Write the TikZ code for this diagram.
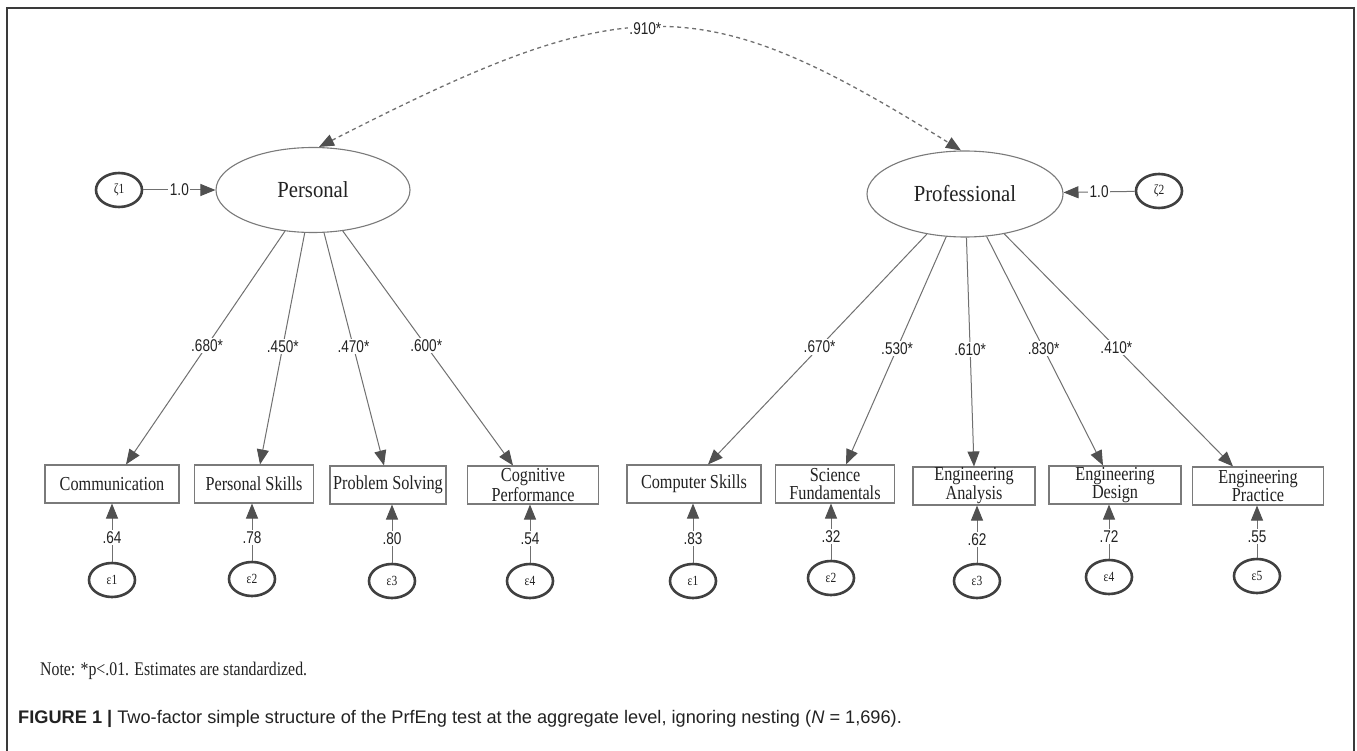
\documentclass[tikz,border=0pt]{standalone}
\usepackage{fontspec}
\setmainfont{Liberation Serif}
\newfontfamily\dserif[FakeStretch=0.82]{Liberation Serif}
\newfontfamily\lserif[FakeStretch=0.9]{Liberation Serif}
\newfontfamily\dsans[FakeStretch=0.8]{Liberation Sans}
\newfontfamily\capsans{Liberation Sans}
\usetikzlibrary{arrows.meta,calc,shapes.geometric}
\definecolor{linegray}{HTML}{707070}
\definecolor{headgray}{HTML}{505050}
\definecolor{boxgray}{HTML}{7A7A7A}
\definecolor{ringgray}{HTML}{404040}
\definecolor{framegray}{HTML}{3A3A3A}
\definecolor{txtgray}{HTML}{222222}
\begin{document}
\begin{tikzpicture}[x=1pt,y=-1pt,
  latent/.style={ellipse, draw=boxgray, line width=1.1pt, inner sep=0pt,
    minimum width=194pt, minimum height=85pt, text=txtgray,
    font=\lserif\fontsize{23}{26}\selectfont},
  indic/.style={rectangle, draw=boxgray, line width=1.1pt, minimum height=38pt,
    inner sep=0pt, align=center, text=txtgray,
    font=\dserif\fontsize{19.8}{18}\selectfont},
  errc/.style={ellipse, draw=ringgray, line width=2.6pt, minimum width=46pt,
    minimum height=34pt, inner sep=0pt, text=txtgray,
    font=\dserif\fontsize{14}{14}\selectfont},
  conn/.style={draw=linegray, line width=1pt,
    -{Triangle[length=15pt,width=12pt,color=headgray]}},
  dblconn/.style={draw=linegray, line width=1.3pt, dash pattern=on 4pt off 3.5pt,
    {Triangle[length=15pt,width=12pt,color=headgray]}-{Triangle[length=15pt,width=12pt,color=headgray]}},
  lbl/.style={fill=white, inner sep=1.5pt, text=txtgray,
    font=\dsans\fontsize{17}{17}\selectfont},
  notetext/.style={anchor=west, inner sep=0pt, text=txtgray,
    font=\dserif\fontsize{19.3}{20}\selectfont},
  captext/.style={anchor=west, inner sep=0pt, text=txtgray,
    font=\capsans\fontsize{18.2}{20}\selectfont}
]
\useasboundingbox (0,0) rectangle (1357,751);
\fill[white] (0,0) rectangle (1357,751);
\draw[framegray, line width=1.8pt] (7,751) -- (7,8) -- (1354,8) -- (1354,751);

% latent factors
\node[latent] (P) at (313,190) {Personal};
\node[latent, minimum width=196pt, minimum height=86pt] (Q) at (965,194) {Professional};
\node[errc] (z1) at (119,190) {ζ1};
\node[errc] (z2) at (1159,191) {ζ2};
\draw[conn] (z1) -- (P) node[lbl, midway] {1.0};
\draw[conn] (z2) -- (Q) node[lbl, midway] {1.0};

% covariance
\draw[dblconn] ([xshift=6pt]P.north) .. controls (630,-12) and (700,-12) .. ([xshift=-4pt]Q.north)
  node[lbl, pos=0.475] {.910*};

% indicators
\node[indic, minimum width=134pt] (b1) at (112,484) {Communication};
\node[indic, minimum width=119pt] (b2) at (254,484) {Personal Skills};
\node[indic, minimum width=116pt] (b3) at (388,485) {Problem Solving};
\node[indic, minimum width=131pt] (b4) at (533,485) {Cognitive\\Performance};
\node[indic, minimum width=134pt] (b5) at (694,484) {Computer Skills};
\node[indic, minimum width=119pt] (b6) at (835,484) {Science\\Fundamentals};
\node[indic, minimum width=122pt] (b7) at (974,486) {Engineering\\Analysis};
\node[indic, minimum width=132pt] (b8) at (1115,485) {Engineering\\Design};
\node[indic, minimum width=131pt] (b9) at (1258,486) {Engineering\\Practice};

% loadings
\draw[conn] (P) -- ([xshift=14pt]b1.north) node[lbl, pos=0.49] {.680*};
\draw[conn] (P) -- ([xshift=6pt]b2.north) node[lbl, pos=0.49] {.450*};
\draw[conn] (P) -- ([xshift=-4pt]b3.north) node[lbl, pos=0.49] {.470*};
\draw[conn] (P) -- ([xshift=-20pt]b4.north) node[lbl, pos=0.49] {.600*};
\draw[conn] (Q) -- ([xshift=14pt]b5.north) node[lbl, pos=0.49] {.670*};
\draw[conn] (Q) -- ([xshift=11pt]b6.north) node[lbl, pos=0.49] {.530*};
\draw[conn] (Q) -- (b7.north) node[lbl, pos=0.49] {.610*};
\draw[conn] (Q) -- ([xshift=-12pt]b8.north) node[lbl, pos=0.49] {.830*};
\draw[conn] (Q) -- ([xshift=-25pt]b9.north) node[lbl, pos=0.49] {.410*};

% residuals
\node[errc] (e1) at (112,580) {ε1};
\node[errc] (e2) at (252,579) {ε2};
\node[errc] (e3) at (392,581) {ε3};
\node[errc] (e4) at (530,581) {ε4};
\node[errc] (e5) at (693,581) {ε1};
\node[errc] (e6) at (831,578) {ε2};
\node[errc] (e7) at (977,581) {ε3};
\node[errc] (e8) at (1109,577) {ε4};
\node[errc] (e9) at (1257,576) {ε5};
\draw[conn] (e1) -- (e1 |- b1.south) node[lbl, pos=0.41] {.64};
\draw[conn] (e2) -- (e2 |- b2.south) node[lbl, pos=0.41] {.78};
\draw[conn] (e3) -- (e3 |- b3.south) node[lbl, pos=0.41] {.80};
\draw[conn] (e4) -- (e4 |- b4.south) node[lbl, pos=0.41] {.54};
\draw[conn] (e5) -- (e5 |- b5.south) node[lbl, pos=0.41] {.83};
\draw[conn] (e6) -- (e6 |- b6.south) node[lbl, pos=0.41] {.32};
\draw[conn] (e7) -- (e7 |- b7.south) node[lbl, pos=0.41] {.62};
\draw[conn] (e8) -- (e8 |- b8.south) node[lbl, pos=0.41] {.72};
\draw[conn] (e9) -- (e9 |- b9.south) node[lbl, pos=0.41] {.55};

% texts
\node[notetext] (note) at (40,671) {Note: *p<.01. Estimates are standardized.};
\node[captext] (cap) at (18,719) {\textbf{FIGURE 1 |} Two-factor simple structure of the PrfEng test at the aggregate level, ignoring nesting (\textit{N} = 1,696).};
\end{tikzpicture}
\end{document}
